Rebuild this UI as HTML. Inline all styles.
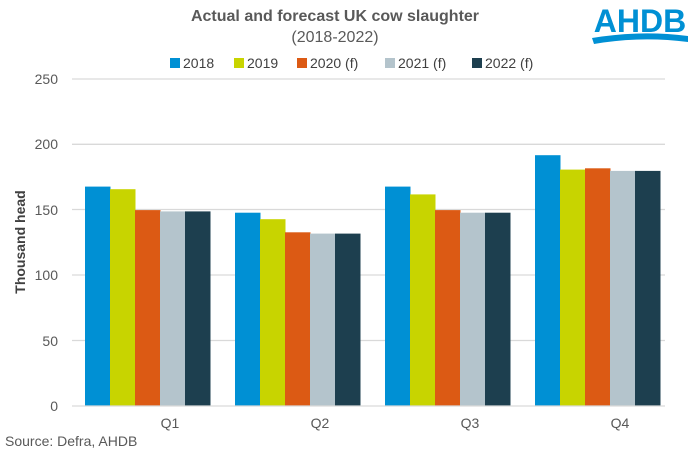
<!DOCTYPE html><html><head><style>body{margin:0;background:#fff}svg{font-family:"Liberation Sans",Arial,sans-serif}</style></head><body>
<svg width="690" height="455" viewBox="0 0 690 455">
<text x="335" y="21" text-anchor="middle" font-size="16" font-weight="bold" fill="#595959">Actual and forecast UK cow slaughter</text>
<text x="335" y="42" text-anchor="middle" font-size="16" fill="#595959">(2018-2022)</text>
<text x="640" y="32" text-anchor="middle" font-size="32" font-weight="bold" fill="#0090d4">AHDB</text>
<path d="M592 38 Q640 30 688 36 L688 42 Q640 36 594 44 Z" fill="#0090d4"/>
<g font-size="14" fill="#404040">
<rect x="170" y="58" width="10" height="10" fill="#0090d4"/><text x="183" y="68">2018</text>
<rect x="234" y="58" width="10" height="10" fill="#c8d400"/><text x="247" y="68">2019</text>
<rect x="297" y="58" width="10" height="10" fill="#dc5a14"/><text x="310" y="68">2020 (f)</text>
<rect x="385" y="58" width="10" height="10" fill="#b4c4cc"/><text x="398" y="68">2021 (f)</text>
<rect x="472" y="58" width="10" height="10" fill="#1d3f4f"/><text x="485" y="68">2022 (f)</text>
</g>
<g stroke="#d9d9d9" stroke-width="1.3">
<line x1="72" x2="665" y1="79" y2="79"/><line x1="72" x2="665" y1="144.3" y2="144.3"/><line x1="72" x2="665" y1="209.5" y2="209.5"/><line x1="72" x2="665" y1="275" y2="275"/><line x1="72" x2="665" y1="340.5" y2="340.5"/>
</g>
<g font-size="14" fill="#595959" text-anchor="end">
<text x="58" y="84">250</text><text x="58" y="149">200</text><text x="58" y="215">150</text><text x="58" y="280">100</text><text x="58" y="346">50</text><text x="58" y="411">0</text>
</g>
<text transform="translate(25,242) rotate(-90)" text-anchor="middle" font-size="14" font-weight="bold" fill="#404040">Thousand head</text>
<g>
<rect x="85" y="186.6" width="25.5" height="219.4" fill="#0090d4"/>
<rect x="110" y="189.2" width="25.5" height="216.8" fill="#c8d400"/>
<rect x="135" y="210.1" width="25.5" height="195.9" fill="#dc5a14"/>
<rect x="160" y="211.4" width="25.5" height="194.6" fill="#b4c4cc"/>
<rect x="185" y="211.4" width="25.5" height="194.6" fill="#1d3f4f"/>
<rect x="235" y="212.7" width="25.5" height="193.3" fill="#0090d4"/>
<rect x="260" y="219.2" width="25.5" height="186.8" fill="#c8d400"/>
<rect x="285" y="232.3" width="25.5" height="173.7" fill="#dc5a14"/>
<rect x="310" y="233.6" width="25.5" height="172.4" fill="#b4c4cc"/>
<rect x="335" y="233.6" width="25.5" height="172.4" fill="#1d3f4f"/>
<rect x="385" y="186.6" width="25.5" height="219.4" fill="#0090d4"/>
<rect x="410" y="194.4" width="25.5" height="211.6" fill="#c8d400"/>
<rect x="435" y="210.1" width="25.5" height="195.9" fill="#dc5a14"/>
<rect x="460" y="212.7" width="25.5" height="193.3" fill="#b4c4cc"/>
<rect x="485" y="212.7" width="25.5" height="193.3" fill="#1d3f4f"/>
<rect x="535" y="155.2" width="25.5" height="250.8" fill="#0090d4"/>
<rect x="560" y="169.6" width="25.5" height="236.4" fill="#c8d400"/>
<rect x="585" y="168.3" width="25.5" height="237.7" fill="#dc5a14"/>
<rect x="610" y="170.9" width="25.5" height="235.1" fill="#b4c4cc"/>
<rect x="635" y="170.9" width="25.5" height="235.1" fill="#1d3f4f"/>
</g>
<line x1="72" x2="665" y1="406" y2="406" stroke="#d9d9d9" stroke-width="1.3"/>
<g font-size="14" fill="#595959" text-anchor="middle">
<text x="170" y="428">Q1</text><text x="320" y="428">Q2</text><text x="470" y="428">Q3</text><text x="620" y="428">Q4</text>
</g>
<text x="5" y="446" font-size="14" fill="#595959">Source:  Defra, AHDB</text>
</svg></body></html>
